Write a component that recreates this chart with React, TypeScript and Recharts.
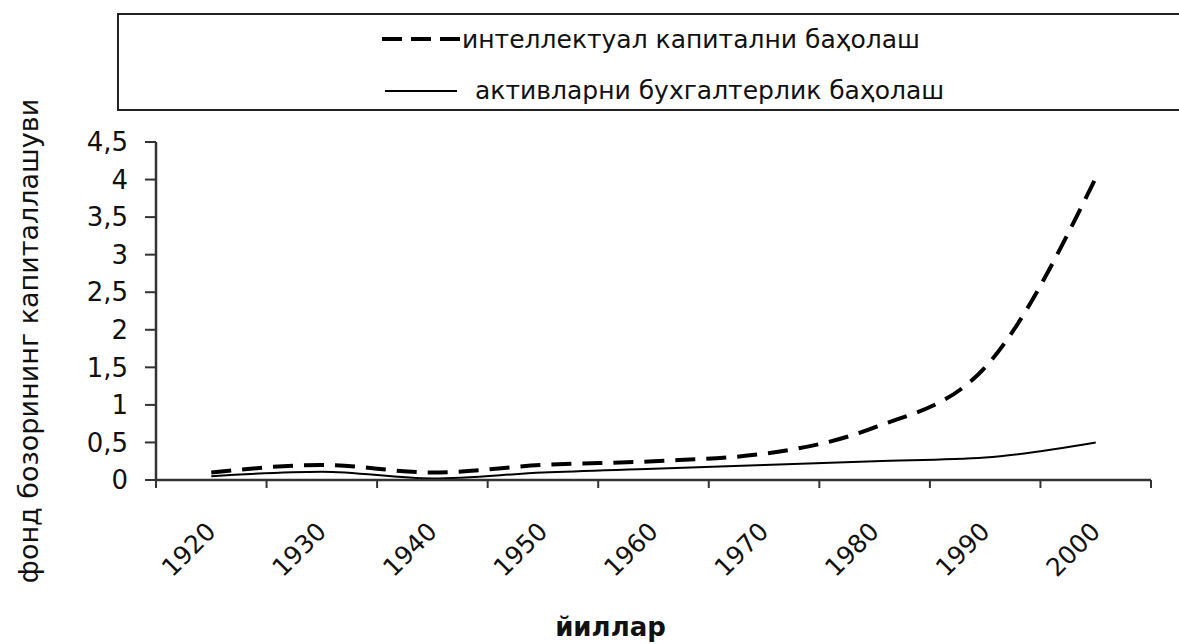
import React from 'react';
import { LineChart, Line, XAxis, YAxis, Legend, Label } from 'recharts';

const years = ['1920', '1930', '1940', '1950', '1960', '1970', '1980', '1990', '2000'];
const intellectual = [0.1, 0.2, 0.1, 0.2, 0.25, 0.35, 0.7, 1.5, 4.02];
const accounting = [0.05, 0.11, 0.02, 0.1, 0.15, 0.2, 0.25, 0.3, 0.5];
const yTicks = [0, 0.5, 1, 1.5, 2, 2.5, 3, 3.5, 4, 4.5];
const seriesNames = ['интеллектуал капитални баҳолаш', 'активларни бухгалтерлик баҳолаш'];
const xTitle = 'йиллар';
const yTitle = 'фонд бозорининг капиталлашуви';

const data = years.map((year, i) => ({ year, intellectual: intellectual[i], accounting: accounting[i] }));

const FONT = '"DejaVu Sans", sans-serif';
const INK = '#111';

function XTick(props: any) {
  const { x, y, payload, width } = props;
  const n = years.length;
  const band = (typeof width === 'number' && width > 0 ? width : 995) / n;
  const half = band / 2;
  const idx = payload && typeof payload.index === 'number' ? payload.index : props.index;
  const tx = x + 6;
  const ty = y + 53;
  return (
    <g>
      <line x1={x - half} x2={x - half} y1={y} y2={y + 8} stroke="#333" strokeWidth={2} />
      {idx === n - 1 && <line x1={x + half} x2={x + half} y1={y} y2={y + 8} stroke="#333" strokeWidth={2} />}
      <text x={tx} y={ty} transform={`rotate(-45, ${tx}, ${ty})`} textAnchor="end" fontSize={25} fontFamily={FONT} fill={INK}>
        {payload.value}
      </text>
    </g>
  );
}

function YTitle(props: any) {
  const vb = props.viewBox || { x: 0, y: 142, width: 156, height: 338 };
  const cx = vb.x + 38;
  const cy = vb.y + vb.height / 2 + 30;
  return (
    <text x={cx} y={cy} transform={`rotate(-90, ${cx}, ${cy})`} textAnchor="middle" fontSize={27} fontFamily={FONT} fill={INK}>
      {yTitle}
    </text>
  );
}

function XTitle(props: any) {
  const vb = props.viewBox || { x: 156, y: 480, width: 995, height: 164 };
  return (
    <text x={vb.x + vb.width / 2 - 43} y={vb.y + 156} textAnchor="middle" fontSize={26} fontWeight="bold" fontFamily={FONT} fill={INK}>
      {xTitle}
    </text>
  );
}

function LegendBox() {
  return (
    <div style={{ position: 'relative', width: 0, height: 0 }}>
      <svg width={1179} height={120} style={{ position: 'absolute', left: 0, top: 0, overflow: 'visible' }}>
        <rect x={118} y={14} width={1100} height={96} fill="#fff" stroke="#222" strokeWidth={2} />
        <line x1={382} x2={460} y1={39} y2={39} stroke="#000" strokeWidth={4} strokeDasharray="20 9" />
        <text x={462} y={48} fontSize={25} fontFamily={FONT} fill={INK}>{seriesNames[0]}</text>
        <line x1={385} x2={457} y1={91} y2={91} stroke="#000" strokeWidth={2} />
        <text x={475} y={99} fontSize={25} fontFamily={FONT} fill={INK}>{seriesNames[1]}</text>
      </svg>
    </div>
  );
}

export default function App() {
  return (
    <div style={{ position: 'absolute', left: 0, top: 0, width: 1179, height: 644, overflow: 'hidden', background: '#fff' }}>
      <LineChart width={1179} height={644} data={data} margin={{ top: 142, right: 28, bottom: 0, left: 0 }}>
        <Legend
          verticalAlign="top"
          content={<LegendBox />}
          wrapperStyle={{ position: 'absolute', left: 0, top: 0, width: 0, height: 0 }}
        />
        <XAxis
          dataKey="year"
          scale="band"
          interval={0}
          height={164}
          tickSize={0}
          tickMargin={0}
          tickLine={false}
          axisLine={{ stroke: '#333', strokeWidth: 2.5 }}
          tick={<XTick />}
        >
          <Label content={<XTitle />} />
        </XAxis>
        <XAxis xAxisId="top" dataKey="year" orientation="top" height={0} tick={false} tickLine={false} axisLine={{ stroke: '#999', strokeWidth: 2 }} />
        <YAxis
          type="number"
          domain={[0, 4.5]}
          ticks={yTicks}
          interval={0}
          width={156}
          tickSize={11}
          tickMargin={17}
          axisLine={{ stroke: '#333', strokeWidth: 2.5 }}
          tickLine={{ stroke: '#333', strokeWidth: 2 }}
          tick={{ fontSize: 26, fill: INK, fontFamily: FONT }}
          tickFormatter={(v: number) => String(v).replace('.', ',')}
        >
          <Label content={<YTitle />} />
        </YAxis>
        <YAxis yAxisId="right" orientation="right" width={0} domain={[0, 4.5]} tick={false} tickLine={false} axisLine={{ stroke: '#999', strokeWidth: 2 }} />
        <Line
          type="monotone"
          dataKey="intellectual"
          name={seriesNames[0]}
          stroke="#000"
          strokeWidth={4}
          strokeDasharray="20 11"
          dot={false}
          activeDot={false}
          isAnimationActive={false}
        />
        <Line
          type="monotone"
          dataKey="accounting"
          name={seriesNames[1]}
          stroke="#000"
          strokeWidth={2}
          dot={false}
          activeDot={false}
          isAnimationActive={false}
        />
      </LineChart>
    </div>
  );
}
